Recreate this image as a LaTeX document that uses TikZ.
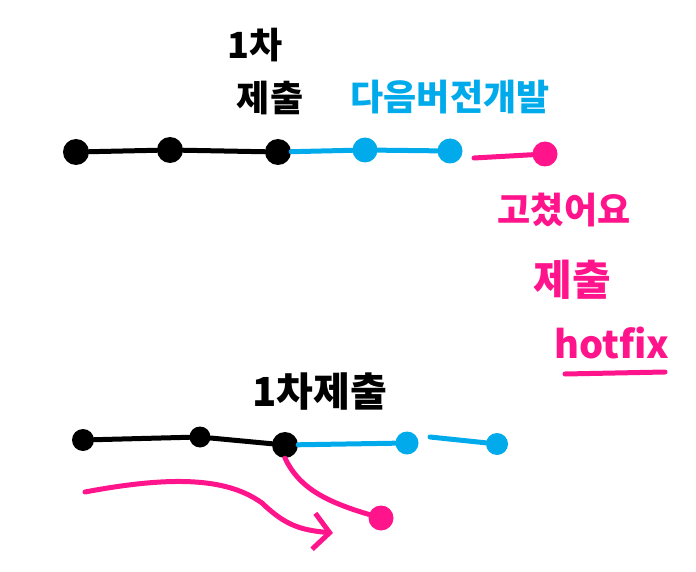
\documentclass[tikz,border=0pt]{standalone}
\usepackage{fontspec}
\newfontfamily\kr{Noto Sans CJK KR}
\usetikzlibrary{arrows.meta}
\definecolor{cblue}{RGB}{0,170,235}
\definecolor{cpink}{RGB}{255,20,140}
\tikzset{
  stroke/.style={line width=5pt, line cap=round, line join=round},
  dotb/.style={circle, fill=black, minimum size=26pt, inner sep=0pt},
  dotc/.style={circle, fill=cblue, minimum size=25pt, inner sep=0pt},
  dotp/.style={circle, fill=cpink, minimum size=25pt, inner sep=0pt},
  lbl/.style={font=\kr\bfseries\fontsize{36}{38}\selectfont, inner sep=0pt},
}
\begin{document}
\begin{tikzpicture}[x=1pt,y=-1pt]
\useasboundingbox (0,0) rectangle (696,572);
% top branch
\node[dotb] (t1) at (76,152) {};
\node[dotb] (t2) at (170,150) {};
\node[dotb] (t3) at (278,152) {};
\node[dotc] (t4) at (365,150) {};
\node[dotc] (t5) at (450,151) {};
\node[dotp] (t6) at (545,154) {};
\coordinate (tp) at (474,158);
\draw[stroke] (t1) -- (t2);
\draw[stroke] (t2) -- (t3);
\draw[stroke, cblue] (t3) -- (t4);
\draw[stroke, cblue] (t4) -- (t5);
\draw[stroke, cpink] (tp) -- (t6);
\node[lbl] (l1) at (255,45) {1차};
\node[lbl] (l2) at (270,98) {제출};
\node[lbl, text=cblue] (l3) at (450,97) {다음버전개발};
\node[lbl, text=cpink] (l4) at (564,210) {고쳤어요};
\node[lbl, text=cpink, font=\kr\bfseries\fontsize{42}{44}\selectfont] (l5) at (572,280) {제출};
\node[lbl, text=cpink, font=\kr\bfseries\fontsize{38}{40}\selectfont] (l6) at (612,343) {hotfix};
\coordinate (u1) at (565,374);
\coordinate (u2) at (665,372);
\draw[stroke, cpink] (u1) -- (u2);
% bottom branch
\node[dotb, minimum size=22pt] (b1) at (83,440) {};
\node[dotb, minimum size=21pt] (b2) at (200,437) {};
\node[dotb, minimum size=26pt] (b3) at (285,445) {};
\node[dotc, minimum size=23pt] (b4) at (407,443) {};
\node[dotc, minimum size=22pt] (b5) at (497,444) {};
\node[dotp, minimum size=25pt] (b6) at (381,518) {};
\coordinate (bp) at (430,437);
\draw[stroke] (b1) -- (b2);
\draw[stroke] (b2) -- (b3);
\draw[stroke, cblue] (b3) -- (b4);
\draw[stroke, cblue] (bp) -- (b5);
\draw[stroke, cpink] (b3.south) .. controls (298,485) and (320,500) .. (b6);
\node[lbl, font=\kr\bfseries\fontsize{40}{42}\selectfont] (l7) at (320,392) {1차제출};
\coordinate (a0) at (85,492);
\coordinate (a1) at (333,533);
\draw[stroke, cpink, -{Straight Barb[length=16pt, width=36pt, line width=5pt]}] (a0) .. controls (180,474) and (230,480) .. (262,503) .. controls (285,525) and (300,530) .. (a1);
\end{tikzpicture}
\end{document}
